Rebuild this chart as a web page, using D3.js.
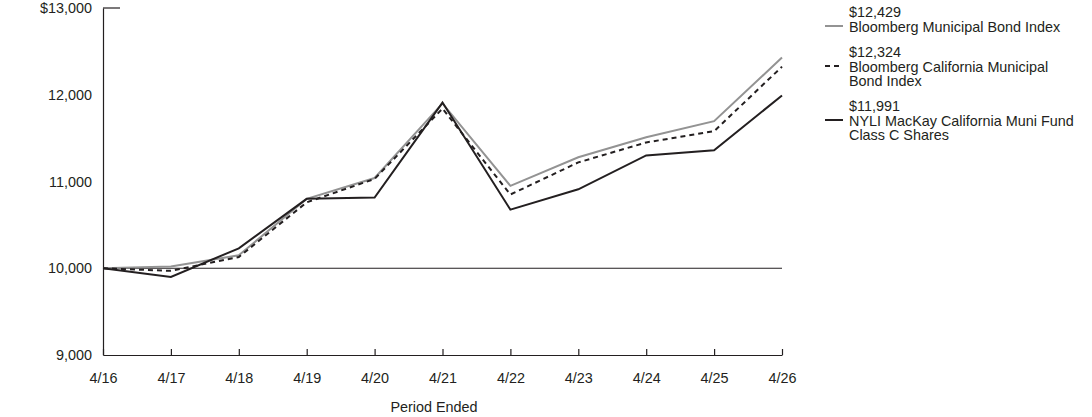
<!DOCTYPE html>
<html>
<head>
<meta charset="utf-8">
<script src="https://cdn.jsdelivr.net/npm/d3@7"></script>
<style>
  body { margin: 0; background: #fff; }
  svg { font-family: "Liberation Sans", Arial, sans-serif; }
</style>
</head>
<body>
<div id="chart"></div>
<script>
// period labels
var periods = ["4/16","4/17","4/18","4/19","4/20","4/21","4/22","4/23","4/24","4/25","4/26"];

// series values
var muniIndex   = [10000, 10020, 10150, 10800, 11040, 11900, 10950, 11280, 11510, 11695, 12429];
var caMuniIndex = [10000,  9970, 10130, 10760, 11030, 11840, 10850, 11220, 11450, 11580, 12324];
var fundClassC  = [10000,  9900, 10230, 10800, 10815, 11910, 10675, 10910, 11300, 11360, 11991];

var yTicks = [9000, 10000, 11000, 12000, 13000];

var series = [
  {name: ["Bloomberg Municipal Bond Index"], last: "$12,429", values: muniIndex, color: "#939393", dash: null},
  {name: ["Bloomberg California Municipal", "Bond Index"], last: "$12,324", values: caMuniIndex, color: "#231f20", dash: "5,4"},
  {name: ["NYLI MacKay California Muni Fund", "Class C Shares"], last: "$11,991", values: fundClassC, color: "#231f20", dash: null}
];

var W = 1092, H = 417;
var margin = {top: 8, left: 103, right: 310, bottom: 62};
var fontSize = 14.4;

var svg = d3.select("#chart").append("svg")
  .attr("width", W)
  .attr("height", H);

var x = d3.scalePoint()
  .domain(periods)
  .range([margin.left, 782]);

var y = d3.scaleLinear()
  .domain([9000, 13000])
  .range([355, margin.top]);

var ink = "#231f20";

// 10,000 baseline
svg.append("line")
  .attr("x1", x("4/16")).attr("x2", x("4/26"))
  .attr("y1", y(10000)).attr("y2", y(10000))
  .attr("stroke", ink).attr("stroke-width", 1.2);

// y axis
var yAxis = svg.append("g")
  .attr("transform", "translate(" + margin.left + ",0)")
  .call(d3.axisLeft(y).tickValues(yTicks).tickSize(0).tickPadding(11)
    .tickFormat(function(d){ return (d == 13000 ? "$" : "") + d3.format(",")(d); }));
yAxis.select(".domain").attr("stroke", ink).attr("stroke-width", 1.2);
yAxis.selectAll("text").attr("font-size", fontSize).attr("fill", ink).attr("font-family", "Liberation Sans, Arial, sans-serif");

// small top cap
svg.append("line")
  .attr("x1", margin.left).attr("x2", margin.left + 17)
  .attr("y1", y(13000)).attr("y2", y(13000))
  .attr("stroke", ink).attr("stroke-width", 1.2);

// x axis
var xAxis = svg.append("g")
  .attr("transform", "translate(0," + y(9000) + ")")
  .call(d3.axisBottom(x).tickSize(-6).tickSizeOuter(0).tickPadding(18));
xAxis.select(".domain").attr("stroke", ink).attr("stroke-width", 1.2);
xAxis.selectAll(".tick line").attr("stroke", ink).attr("stroke-width", 1.2);
xAxis.selectAll("text").attr("font-size", fontSize).attr("fill", ink).attr("font-family", "Liberation Sans, Arial, sans-serif");

svg.append("text")
  .attr("x", 434)
  .attr("y", 412)
  .attr("text-anchor", "middle")
  .attr("font-size", fontSize)
  .attr("fill", ink)
  .text("Period Ended");

var line = d3.line()
  .x(function(d, i){ return x(periods[i]); })
  .y(function(d){ return y(d); });

series.forEach(function(s){
  svg.append("path")
    .datum(s.values)
    .attr("fill", "none")
    .attr("stroke", s.color)
    .attr("stroke-width", 2)
    .attr("stroke-dasharray", s.dash)
    .attr("stroke-linejoin", "miter")
    .attr("d", line);
});

// legend
var legendTops = [17, 57, 111];
series.forEach(function(s, i){
  var g = svg.append("g").attr("transform", "translate(849," + legendTops[i] + ")");
  var lines = [s.last].concat(s.name);
  lines.forEach(function(t, j){
    g.append("text")
      .attr("x", 0).attr("y", j * 14.5)
      .attr("font-size", fontSize)
      .attr("fill", ink)
      .text(t);
  });
  g.append("line")
    .attr("x1", -24).attr("x2", -6)
    .attr("y1", 9).attr("y2", 9)
    .attr("stroke", s.color)
    .attr("stroke-width", 2)
    .attr("stroke-dasharray", s.dash);
});
</script>
</body>
</html>
